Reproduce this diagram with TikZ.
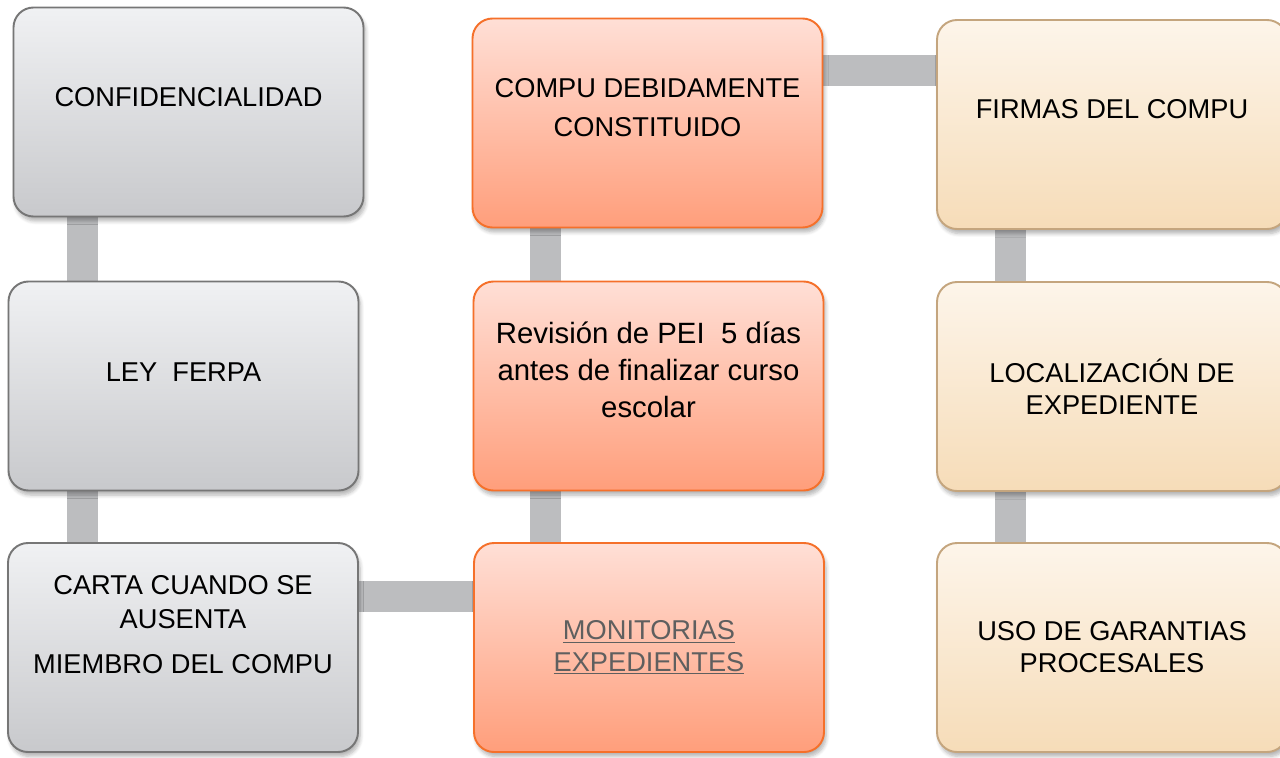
\documentclass[tikz,border=0pt]{standalone}
\usepackage{fontspec}
\setmainfont{Liberation Sans}
\usetikzlibrary{calc,backgrounds,shadows.blur}

\definecolor{grayTop}{HTML}{F0F1F3}
\definecolor{grayBot}{HTML}{C8C9CC}
\definecolor{grayLine}{HTML}{767676}
\definecolor{orangeTop}{HTML}{FFDFD6}
\definecolor{orangeBot}{HTML}{FF9E7B}
\definecolor{orangeLine}{HTML}{F5702A}
\definecolor{tanTop}{HTML}{FDF5EA}
\definecolor{tanBot}{HTML}{F6DCB8}
\definecolor{tanLine}{HTML}{C4A57E}
\definecolor{barGray}{HTML}{BCBDBF}
\definecolor{linkGray}{HTML}{5F5F5F}

\begin{document}
\begin{tikzpicture}[
		box/.style={line width=1.1pt, rounded corners=0.4cm, minimum width=7cm, minimum height=4.18cm,
			blur shadow={shadow xshift=0.04cm, shadow yshift=-0.09cm, shadow blur steps=6, shadow opacity=30}},
		gbox/.style={box, draw=grayLine, top color=grayTop, bottom color=grayBot},
		obox/.style={box, draw=orangeLine, top color=orangeTop, bottom color=orangeBot},
		tbox/.style={box, draw=tanLine, top color=tanTop, bottom color=tanBot},
		txt/.style={align=center, font=\fontsize{15.5}{18.2}\selectfont},
		bar/.style={draw=barGray, line width=0.62cm}]
		\useasboundingbox (0,0) rectangle (25.6,15.14);
		% first column
		\node[gbox, label={[txt,yshift=0.3cm]center:CONFIDENCIALIDAD}] (conf) at (3.77,12.9) {};
		\node[gbox, label={[txt,yshift=0.28cm]center:LEY\ \ FERPA}] (ley) at (3.67,7.42) {};
		\node[gbox, label={[txt,yshift=0.46cm,font=\fontsize{15.5}{19.4}\selectfont]center:CARTA CUANDO SE\\ AUSENTA\\[6pt] MIEMBRO DEL COMPU}] (carta) at (3.66,2.19) {};
		% second column
		\node[obox, label={[txt,yshift=0.31cm,font=\fontsize{15.5}{22.2}\selectfont]center:COMPU DEBIDAMENTE\\ CONSTITUIDO}] (compu) at (12.95,12.68) {};
		\node[obox, label={[txt,yshift=0.32cm,font=\fontsize{16.7}{21}\selectfont]center:Revisión de PEI\ \ 5 días\\ antes de finalizar curso\\ escolar}] (rev) at (12.97,7.42) {};
		\node[obox, label={[txt,text=linkGray]center:\underline{MONITORIAS}\\ \underline{EXPEDIENTES}}] (mon) at (12.98,2.19) {};
		% third column
		\node[tbox, label={[txt,yshift=0.3cm]center:FIRMAS DEL COMPU}] (firmas) at (22.24,12.65) {};
		\node[tbox, label={[txt]center:LOCALIZACIÓN DE\\ EXPEDIENTE}] (loc) at (22.24,7.41) {};
		\node[tbox, label={[txt]center:USO DE GARANTIAS\\ PROCESALES}] (uso) at (22.24,2.19) {};
		% where the bars run
		\coordinate (c1) at (1.64,0);
		\coordinate (c2) at (10.9,0);
		\coordinate (c3) at (20.2,0);
		\coordinate (r1) at (0,13.72);
		\coordinate (r3) at (0,3.22);
		\begin{scope}[on background layer]
			\draw[bar] (conf.south -| c1) -- (ley.north -| c1);
			\draw[bar] (ley.south -| c1) -- (carta.north -| c1);
			\draw[bar] (carta.east |- r3) -- (mon.west |- r3);
			\draw[bar] (mon.north -| c2) -- (rev.south -| c2);
			\draw[bar] (rev.north -| c2) -- (compu.south -| c2);
			\draw[bar] (compu.east |- r1) -- (firmas.west |- r1);
			\draw[bar] (firmas.south -| c3) -- (loc.north -| c3);
			\draw[bar] (loc.south -| c3) -- (uso.north -| c3);
		\end{scope}
\end{tikzpicture}
\end{document}
